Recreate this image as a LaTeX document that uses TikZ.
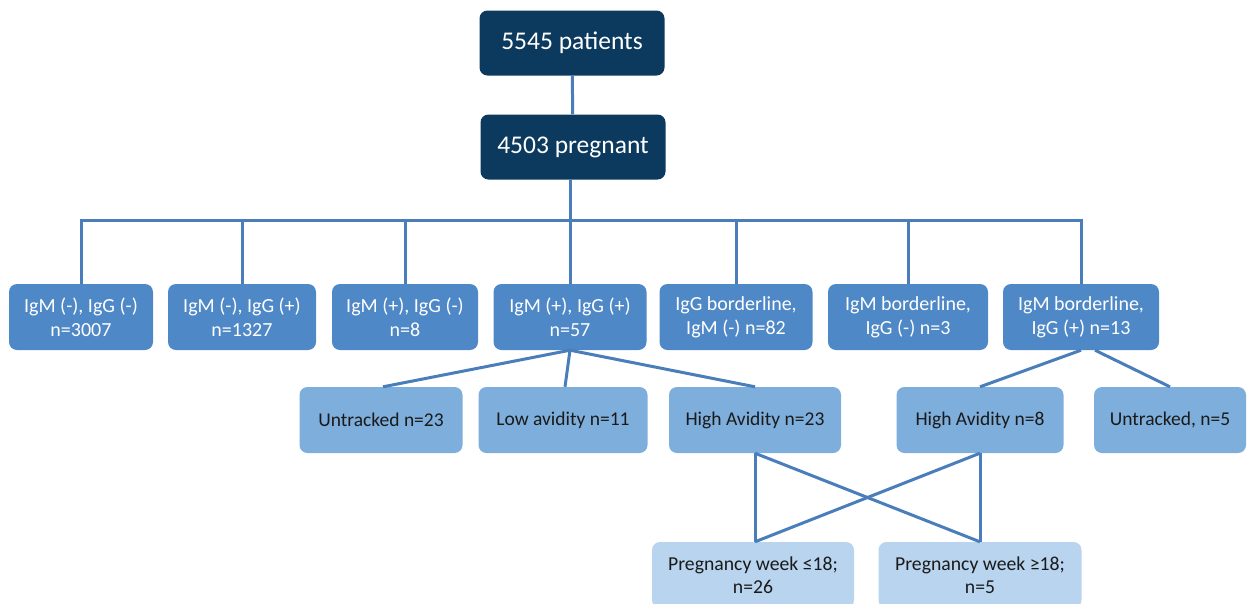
\documentclass[tikz,border=0pt]{standalone}
\usepackage{fontspec}
\setmainfont{Carlito}
\definecolor{navy}{HTML}{0C3A5E}
\definecolor{midblue}{HTML}{4F88C6}
\definecolor{lightblue}{HTML}{7EAEDC}
\definecolor{paleblue}{HTML}{B8D4EE}
\definecolor{linkblue}{HTML}{4A7EBB}
\definecolor{darktext}{HTML}{1A1A1A}
\begin{document}
\begin{tikzpicture}[x=1pt,y=-1pt,
  box/.style={rounded corners=8pt, align=center, inner sep=0pt},
  topbox/.style={box, fill=navy, text=white, minimum width=185pt, minimum height=65pt, font=\fontsize{25.5}{30}\selectfont},
  grpbox/.style={box, fill=midblue, text=white, minimum height=66pt, font=\fontsize{20}{24}\selectfont},
  subbox/.style={box, fill=lightblue, text=darktext, minimum height=66pt, font=\fontsize{19.5}{23}\selectfont},
  weekbox/.style={box, fill=paleblue, text=darktext, minimum height=66pt, font=\fontsize{19.7}{23}\selectfont},
  link/.style={draw=linkblue, line width=3pt}]
\useasboundingbox (0,0) rectangle (1248,603);
\clip (0,0) rectangle (1248,603);
\node[topbox] (all) at (572,43) {5545 patients};
\node[topbox] (preg) at (573,147) {4503 pregnant};
\node[grpbox, minimum width=144pt] (g1) at (81,317) {IgM (-), IgG (-)\\n=3007};
\node[grpbox, minimum width=148pt] (g2) at (242,317) {IgM (-), IgG (+)\\n=1327};
\node[grpbox, minimum width=146pt] (g3) at (405,317) {IgM (+), IgG (-)\\n=8};
\node[grpbox, minimum width=153pt] (g4) at (570,317) {IgM (+), IgG (+)\\n=57};
\node[grpbox, minimum width=153pt] (g5) at (736,317) {IgG borderline,\\IgM (-) n=82};
\node[grpbox, minimum width=160pt] (g6) at (908,317) {IgM borderline,\\IgG (-) n=3};
\node[grpbox, minimum width=156pt] (g7) at (1081,317) {IgM borderline,\\IgG (+) n=13};
\node[subbox, minimum width=163pt] (untr) at (381,420) {Untracked n=23};
\node[subbox, minimum width=169pt] (low) at (563,420) {Low avidity n=11};
\node[subbox, minimum width=172pt] (highA) at (755,420) {High Avidity n=23};
\node[subbox, minimum width=167pt] (highB) at (980,420) {High Avidity n=8};
\node[subbox, minimum width=152pt] (untrB) at (1170,420) {Untracked, n=5};
\node[weekbox, minimum width=202pt] (early) at (753,575) {Pregnancy week ≤18;\\n=26};
\node[weekbox, minimum width=203pt] (late) at (980,575) {Pregnancy week ≥18;\\n=5};
\coordinate (bus) at (570,220);
\draw[link] (all) -- (preg);
\draw[link] (preg.south -| bus) -- (bus);
\foreach \g in {g1,g2,g3,g4,g5,g6,g7}
  \draw[link] (\g.north) |- (bus);
\draw[link] (g4.south) -- ([xshift=2pt]untr.north);
\draw[link] (g4.south) -- ([xshift=2pt]low.north);
\draw[link] (g4.south) -- (highA.north);
\draw[link] (g7.south) -- (highB.north);
\draw[link] ([xshift=14pt]g7.south) -- (untrB.north);
\draw[link] (highA.south) -- (highA.south |- early.north);
\draw[link] (highA.south) -- (late.north);
\draw[link] (highB.south) -- (late.north);
\draw[link] (highB.south) -- (highA.south |- early.north);
\end{tikzpicture}
\end{document}
